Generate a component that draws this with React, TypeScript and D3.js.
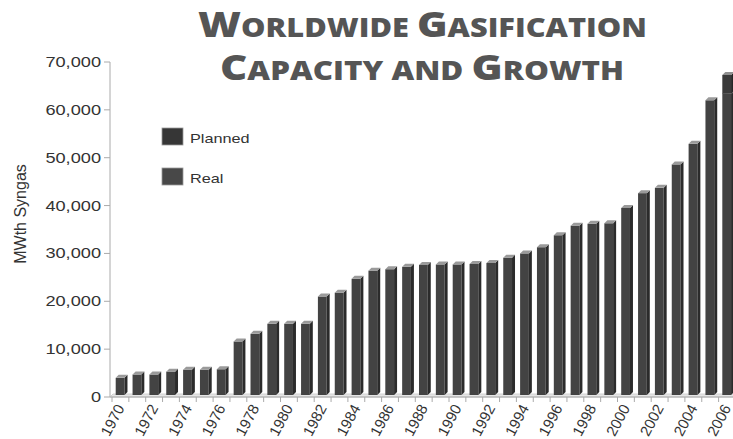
import React from "react";
import * as d3 from "d3";

const years: string[] = [
  "1970","1971","1972","1973","1974","1975","1976","1977","1978","1979",
  "1980","1981","1982","1983","1984","1985","1986","1987","1988","1989",
  "1990","1991","1992","1993","1994","1995","1996","1997","1998","1999",
  "2000","2001","2002","2003","2004","2005","2006",
];
const realValues: number[] = [
  4000, 4700, 4700, 5300, 5700, 5700, 5800, 11600, 13200, 15300,
  15300, 15300, 21000, 21800, 24700, 26400, 26700, 27200, 27600, 27700,
  27700, 27800, 28000, 29100, 30000, 31300, 33800, 35800, 36200, 36300,
  39500, 42600, 43700, 48600, 52900, 62000, 63400,
];
const plannedValues: number[] = [
  0, 0, 0, 0, 0, 0, 0, 0, 0, 0,
  0, 0, 0, 0, 0, 0, 0, 0, 0, 0,
  0, 0, 0, 0, 0, 0, 0, 0, 0, 0,
  0, 0, 0, 0, 0, 0, 3900,
];
const yTicks: number[] = [0, 10000, 20000, 30000, 40000, 50000, 60000, 70000];
const xLabelYears: string[] = years.filter((y) => +y % 2 === 0);
const legendItems: string[] = ["Planned", "Real"];
const titleLines: string[][] = [
  ["W", "ORLDWIDE ", "G", "ASIFICATION"],
  ["C", "APACITY AND ", "G", "ROWTH"],
];

export default function App() {
  const W = 733, H = 439;
  const x = d3.scaleBand<string>().domain(years).range([112, 112 + 37 * 16.85]).padding(0);
  const y = d3.scaleLinear().domain([0, 70000]).range([397, 62]);
  const bw = x.bandwidth();
  const fw = bw * 0.52;
  const off = bw * 0.22;
  const depth = 3;
  const fmt = d3.format(",");

  const colors = {
    realFront: "#434343",
    realSide: "#2b2b2b",
    realTop: "#9a9a9a",
    planFront: "#3a3a3a",
    planSide: "#262626",
    planTop: "#8f8f8f",
  };

  const bars: React.ReactNode[] = [];
  years.forEach((yr, i) => {
    const x0 = (x(yr) as number) + off;
    const base = y(0) - 2;
    const segs = [
      { v0: 0, v1: realValues[i], f: colors.realFront, s: colors.realSide, t: colors.realTop },
      { v0: realValues[i], v1: realValues[i] + plannedValues[i], f: colors.planFront, s: colors.planSide, t: colors.planTop },
    ];
    segs.forEach((sg, j) => {
      if (sg.v1 <= sg.v0) return;
      const yb = sg.v0 === 0 ? base : y(sg.v0);
      const yt = y(sg.v1);
      const isTop = j === 1 || plannedValues[i] === 0;
      bars.push(
        <g key={`${yr}-${j}`}>
          <rect x={x0} y={yt} width={fw} height={yb - yt} fill={sg.f} />
          <path
            d={`M${x0 + fw},${yt} L${x0 + fw + depth},${yt - depth} L${x0 + fw + depth},${yb - depth} L${x0 + fw},${yb} Z`}
            fill={sg.s}
          />
          {isTop ? (
            <path
              d={`M${x0},${yt} L${x0 + depth},${yt - depth} L${x0 + fw + depth},${yt - depth} L${x0 + fw},${yt} Z`}
              fill={sg.t}
            />
          ) : (
            <line x1={x0} x2={x0 + fw + depth} y1={yt} y2={yt - 1} stroke="#777" strokeWidth={1} />
          )}
        </g>
      );
    });
  });

  const titleBig = 35, titleSmall = 26;

  return (
    <svg width={W} height={H} style={{ position: "absolute", left: 0, top: 0, background: "#fff" }}
      fontFamily="'Liberation Sans', Arial, sans-serif">
      {/* Title */}
      {titleLines.map((parts, li) => (
        <text key={li} x={li === 0 ? 198 : 220} y={li === 0 ? 37 : 80}
          textLength={li === 0 ? 449 : 404} lengthAdjust="spacingAndGlyphs"
          fill="#555" fontWeight={800} fontFamily="'Open Sans', 'DejaVu Sans', sans-serif">
          {parts.map((p, k) => (
            <tspan key={k} fontSize={k % 2 === 0 ? titleBig : titleSmall}>{p}</tspan>
          ))}
        </text>
      ))}

      {/* Y axis */}
      <line x1={110} x2={110} y1={y(70000)} y2={y(0)} stroke="#aaa" strokeWidth={1} />
      {yTicks.map((t) => (
        <g key={t}>
          <line x1={104} x2={110} y1={y(t)} y2={y(t)} stroke="#aaa" />
          <text transform={`translate(101,${y(t) + 5}) scale(1.3,1)`} textAnchor="end"
            fontSize={14} fill="#333">{fmt(t)}</text>
        </g>
      ))}
      <text transform={`translate(26,214) rotate(-90)`} textAnchor="middle" fontSize={16} fill="#333">
        MWth Syngas
      </text>

      {/* floor */}
      <path d={`M110,${y(0)} L113,${y(0) - 3} L735,${y(0) - 3} L735,${y(0)} Z`} fill="#e6e6e6" stroke="#c8c8c8" strokeWidth={0.8} />
      <line x1={110} x2={735} y1={y(0)} y2={y(0)} stroke="#aaa" />
      {years.map((yr) => (
        <line key={yr} x1={x(yr) as number} x2={x(yr) as number} y1={y(0)} y2={y(0) + 5} stroke="#aaa" />
      ))}

      {bars}

      {/* X labels */}
      {xLabelYears.map((yr) => {
        const cx = (x(yr) as number) + bw / 2 + 1;
        return (
          <text key={yr} transform={`translate(${cx},${406}) rotate(-62)`} textAnchor="end"
            dominantBaseline="middle" fontSize={15} fill="#333">{yr}</text>
        );
      })}

      {/* Legend */}
      {legendItems.map((name, i) => (
        <g key={name}>
          <rect x={162} y={128 + i * 40} width={21} height={17}
            fill={i === 0 ? "#363636" : "#484848"} stroke="#999" strokeWidth={0.8} />
          <text transform={`translate(190,${143 + i * 40}) scale(1.25,1)`} fontSize={13} fill="#333">{name}</text>
        </g>
      ))}
    </svg>
  );
}
